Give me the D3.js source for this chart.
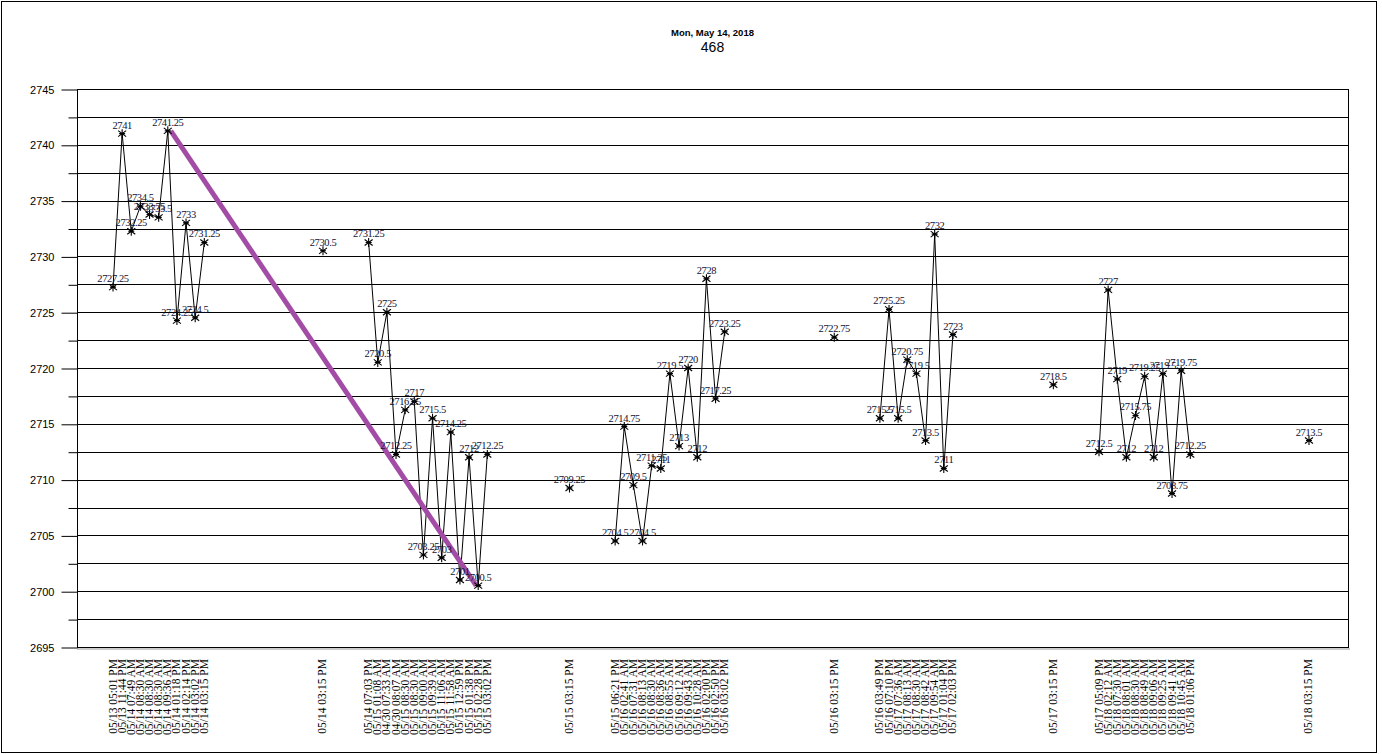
<!DOCTYPE html>
<html>
<head>
<meta charset="utf-8">
<script src="https://cdn.jsdelivr.net/npm/d3@7"></script>
<style>
body{margin:0;background:#fff;}
</style>
</head>
<body>
<script>
// blank rows in the sheet become empty category slots
function blank(n){ return d3.range(n).map(function(){ return null; }); }

var session1Labels=["05/13 05:01 PM","05/13 11:44 PM","05/14 07:49 AM","05/14 08:30 AM","05/14 08:30 AM","05/14 08:30 AM","05/14 09:36 AM","05/14 01:18 PM","05/14 02:14 PM","05/14 03:02 PM","05/14 03:15 PM"];
var session1Values=[2727.25,2741,2732.25,2734.5,2733.75,2733.5,2741.25,2724.25,2733,2724.5,2731.25];
var session2Labels=["05/14 07:03 PM","05/15 01:08 AM","04/30 07:33 AM","04/30 08:07 AM","05/15 08:30 AM","05/15 08:30 AM","05/15 09:00 AM","05/15 09:39 AM","05/15 11:06 AM","05/15 11:58 AM","05/15 12:59 PM","05/15 01:38 PM","05/15 02:28 PM","05/15 03:02 PM"];
var session2Values=[2731.25,2720.5,2725,2712.25,2716.25,2717,2703.25,2715.5,2703,2714.25,2701,2712,2700.5,2712.25];
var session3Labels=["05/15 06:21 PM","05/16 02:41 AM","05/16 07:31 AM","05/16 08:13 AM","05/16 08:30 AM","05/16 08:36 AM","05/16 08:55 AM","05/16 09:12 AM","05/16 09:43 AM","05/16 10:28 AM","05/16 02:00 PM","05/16 02:50 PM","05/16 03:02 PM"];
var session3Values=[2704.5,2714.75,2709.5,2704.5,2711.25,2711,2719.5,2713,2720,2712,2728,2717.25,2723.25];
var session4Labels=["05/16 03:49 PM","05/16 07:10 PM","05/17 07:36 AM","05/17 08:13 AM","05/17 08:30 AM","05/17 08:42 AM","05/17 09:54 AM","05/17 01:04 PM","05/17 02:03 PM"];
var session4Values=[2715.5,2725.25,2715.5,2720.75,2719.5,2713.5,2732,2711,2723];
var session5Labels=["05/17 05:09 PM","05/18 02:12 AM","05/18 07:30 AM","05/18 08:01 AM","05/18 08:30 AM","05/18 08:49 AM","05/18 09:06 AM","05/18 09:25 AM","05/18 09:41 AM","05/18 10:45 AM","05/18 01:06 PM"];
var session5Values=[2712.5,2727,2719,2712,2715.75,2719.25,2712,2719.5,2708.75,2719.75,2712.25];
var closeLabels=["05/14 03:15 PM","05/15 03:15 PM","05/16 03:15 PM","05/17 03:15 PM","05/18 03:15 PM"];
var closeValues=[2730.5,2709.25,2722.75,2718.5,2713.5];
var gapRows=[4,12,4,8,4,11,4,10,4,12,4];   // blank rows between blocks
var yTicks=[2695,2700,2705,2710,2715,2720,2725,2730,2735,2740,2745];
var yMinor=[2697.5,2702.5,2707.5,2712.5,2717.5,2722.5,2727.5,2732.5,2737.5,2742.5];
var trendFrom=[10,2741.25], trendTo=[44,2700.5];  // [row, value]
var titleText="Mon, May 14, 2018", subtitleText="468";

var sessL=[session1Labels,session2Labels,session3Labels,session4Labels,session5Labels];
var sessV=[session1Values,session2Values,session3Values,session4Values,session5Values];
var labels=[], values=[];
labels=labels.concat(blank(gapRows[0])); values=values.concat(blank(gapRows[0]));
for(var s=0;s<5;s++){
    labels=labels.concat(sessL[s],blank(gapRows[1+2*s]),[closeLabels[s]],blank(gapRows[2+2*s]));
    values=values.concat(sessV[s],blank(gapRows[1+2*s]),[closeValues[s]],blank(gapRows[2+2*s]));
}
var rows=values.map(function(v,i){ return {i:i,label:labels[i],value:v}; });

var width=1382, height=754;
var plot={left:77, right:1348, top:89, bottom:647};

var svg=d3.select("body").append("svg")
    .attr("width",width).attr("height",height);

svg.append("rect")
    .attr("x",1.5).attr("y",1.5)
    .attr("width",1375).attr("height",751)
    .attr("fill","#fff").attr("stroke","#000");

var x=d3.scalePoint()
    .domain(rows.map(function(d){ return d.i; }))
    .range([plot.left-0.5,plot.right-2.5]);
var y=d3.scaleLinear()
    .domain([2695,2745])
    .range([plot.bottom,plot.top]);

// grid
svg.append("g").selectAll("line")
    .data(yTicks.concat(yMinor))
    .enter().append("line")
    .attr("x1",plot.left).attr("x2",plot.right)
    .attr("y1",function(d){ return Math.round(y(d))+0.5; })
    .attr("y2",function(d){ return Math.round(y(d))+0.5; })
    .attr("stroke","#000");

// right border + bottom shadow
svg.append("line")
    .attr("x1",plot.right+0.5).attr("x2",plot.right+0.5)
    .attr("y1",plot.top).attr("y2",plot.bottom+1)
    .attr("stroke","#000");
svg.append("line")
    .attr("x1",plot.left).attr("x2",plot.right+2)
    .attr("y1",plot.bottom+2).attr("y2",plot.bottom+2)
    .attr("stroke","#999");

// y axis
var yAxis=svg.append("g")
    .attr("transform","translate("+(plot.left+0.5)+",0.5)")
    .call(d3.axisLeft(y).tickValues(yTicks).tickSize(16).tickPadding(7).tickFormat(d3.format("d")));
svg.append("g")
    .attr("transform","translate("+(plot.left+0.5)+",0.5)")
    .call(d3.axisLeft(y).tickValues(yMinor).tickSize(9).tickFormat(""))
    .select(".domain").remove();
svg.selectAll(".tick line").attr("stroke","#000");
yAxis.select(".domain").attr("stroke","#000").attr("d","M0,"+(plot.top-0.5)+"V"+(plot.bottom-0.5));
yAxis.selectAll("text")
    .attr("font-family","Liberation Sans, Arial, sans-serif")
    .attr("font-size","11px")
    .attr("fill","#000");

// x labels (rotated)
svg.append("g").selectAll("text")
    .data(rows.filter(function(d){ return d.label; }))
    .enter().append("text")
    .attr("transform",function(d){ return "translate("+(x(d.i)+3.5)+",659) rotate(-90)"; })
    .attr("text-anchor","end")
    .attr("font-family","Liberation Serif, Times New Roman, serif")
    .attr("font-size","11.5px")
    .attr("fill","#000")
    .text(function(d){ return d.label; });

// price line
var line=d3.line()
    .defined(function(d){ return d.value!=null; })
    .x(function(d){ return x(d.i); })
    .y(function(d){ return y(d.value); });
svg.append("path")
    .datum(rows)
    .attr("d",line)
    .attr("fill","none")
    .attr("stroke","#000")
    .attr("stroke-width",1);

// trend line
svg.append("line")
    .attr("x1",x(trendFrom[0])+3).attr("y1",y(trendFrom[1]))
    .attr("x2",x(trendTo[0])-2).attr("y2",y(trendTo[1]))
    .attr("stroke","#a24ca6")
    .attr("stroke-width",5);

// star markers
var pts=rows.filter(function(d){ return d.value!=null; });
var mk=svg.append("g").selectAll("g")
    .data(pts)
    .enter().append("g")
    .attr("transform",function(d){ return "translate("+x(d.i)+","+y(d.value)+")"; });
mk.append("path")
    .attr("d","M0,-4.5V4.5M-4,-3L4,3M-4,3L4,-3M-3,0H3")
    .attr("stroke","#000")
    .attr("stroke-width",1.1);

// value labels
svg.append("g").selectAll("text")
    .data(pts)
    .enter().append("text")
    .attr("x",function(d){ return x(d.i); })
    .attr("y",function(d){ return y(d.value)-5; })
    .attr("text-anchor","middle")
    .attr("font-family","Liberation Serif, Times New Roman, serif")
    .attr("font-size","10.5px")
    .attr("letter-spacing","-0.4px")
    .attr("fill","#111133")
    .text(function(d){ return String(d.value); });

// title
svg.append("text")
    .attr("x",(plot.left+plot.right)/2).attr("y",36)
    .attr("text-anchor","middle")
    .attr("font-family","Liberation Sans, Arial, sans-serif")
    .attr("font-size","9.5px")
    .attr("font-weight","bold")
    .text(titleText);
svg.append("text")
    .attr("x",(plot.left+plot.right)/2).attr("y",52)
    .attr("text-anchor","middle")
    .attr("font-family","Liberation Sans, Arial, sans-serif")
    .attr("font-size","14px")
    .text(subtitleText);
</script>
</body>
</html>
